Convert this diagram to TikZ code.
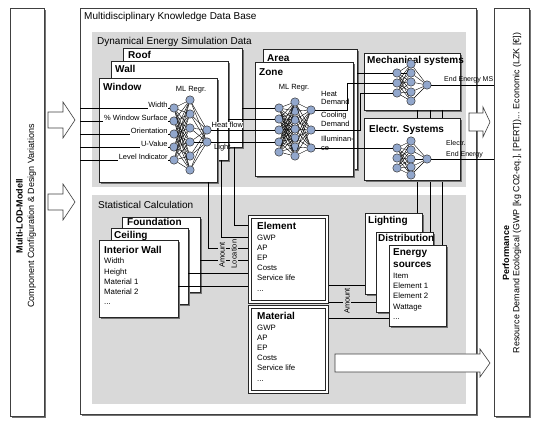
\documentclass[tikz,border=0pt]{standalone}
\usepackage{fontspec}
\setmainfont{Liberation Sans}
\usetikzlibrary{positioning,calc,shadows}
\colorlet{panelColor}{black!15}
\definecolor{neuronColor}{RGB}{146,167,204}
\colorlet{edgeColor}{black!85}
\newcommand{\hollowArrow}[6]{% start x, tip x, centre y, half shaft, half head, head length
  \draw[arrowshape] (#1,#3-#4) -- (#2-#6,#3-#4) -- (#2-#6,#3-#5) -- (#2,#3)
    -- (#2-#6,#3+#5) -- (#2-#6,#3+#4) -- (#1,#3+#4) -- cycle;}
\tikzset{
  shade box/.style={drop shadow={shadow xshift=1.6pt,shadow yshift=-1.6pt,fill=black!55,opacity=1}},
  frame/.style={draw=black!75,fill=white,line width=0.6pt,inner sep=0pt,outer sep=0pt,anchor=north west,shade box},
  box/.style={draw=edgeColor,fill=white,line width=0.6pt,inner sep=0pt,outer sep=0pt,anchor=north west,shade box},
  dbox/.style={box,double=white,double distance=2.4pt,outer sep=2pt},
  panel/.style={fill=panelColor},
  bigtitle/.style={font=\fontsize{10}{12}\selectfont,inner sep=0pt,anchor=west},
  boxtitle/.style={font=\fontsize{10}{12}\selectfont\bfseries,inner sep=0pt,anchor=north west,align=left},
  boxitems/.style={font=\fontsize{7.8}{10.2}\selectfont,inner sep=0pt,anchor=north west,align=left},
  neuron/.style={circle,draw=black!80,fill=neuronColor,minimum size=8.4pt,inner sep=0pt,line width=0.5pt},
  link/.style={line width=0.4pt},
  small/.style={font=\fontsize{7.5}{8.6}\selectfont,inner sep=0pt},
  inlabel/.style={small,fill=white,inner sep=0.8pt,anchor=south east},
  tag/.style={small,fill=panelColor,inner sep=1pt,rotate=90},
  arrowshape/.style={draw=black!75,fill=white,line width=0.6pt},
}

\begin{document}
\begin{tikzpicture}[x=1pt,y=-1pt]
\useasboundingbox (0,0) rectangle (536,422);
% outer frames
\node[frame,minimum width=34pt,minimum height=408pt] (lod) at (10,8) {};
\node[frame,minimum width=396pt,minimum height=406pt] (kdb) at (80,8) {};
\node[frame,minimum width=35pt,minimum height=408pt] (perf) at (494,8) {};
\node[rotate=90,align=center,font=\fontsize{9}{11.5}\selectfont] (lodText) at (26,216) {\textbf{Multi-LOD-Modell}\\Component Configuration \& Design Variations};
\node[rotate=90,font=\fontsize{9}{11}\selectfont\bfseries] (perfTitle) at (506,253) {Performance};
\node[rotate=90,font=\fontsize{8.9}{11}\selectfont] (perfText) at (517,193) {Resource Demand Ecological (GWP [kg CO2-eq.], [PERT])... Economic (LZK [€])};
% panels
\fill[panel] (92,32) rectangle (466,187);
\fill[panel] (92,195) rectangle (466,404);
\node[bigtitle] (kdbTitle) at (84,17) {Multidisciplinary Knowledge Data Base};
\node[bigtitle] (dynTitle) at (97,42) {Dynamical Energy Simulation Data};
\node[bigtitle] (statTitle) at (98,205) {Statistical Calculation};
% simulation boxes
\node[box,minimum width=119pt,minimum height=99pt] (roof) at (123,48) {};
\node[box,minimum width=117pt,minimum height=99pt] (wall) at (111,61) {};
\node[box,minimum width=118pt,minimum height=104pt] (window) at (99,78) {};
\node[boxtitle] (roofTitle) at (128,51) {Roof};
\node[boxtitle] (wallTitle) at (115,65) {Wall};
\node[boxtitle] (windowTitle) at (103,83) {Window};
\node[box,minimum width=94pt,minimum height=120pt] (area) at (263,49) {};
\node[box,minimum width=98pt,minimum height=114pt] (zone) at (255,62) {};
\node[boxtitle] (areaTitle) at (267,54) {Area};
\node[boxtitle] (zoneTitle) at (259,68) {Zone};
\node[box,minimum width=96pt,minimum height=57pt] (mech) at (364,53) {};
% statistical boxes
\node[box,minimum width=57pt,minimum height=81pt] (lighting) at (365,213) {};
\node[box,minimum width=57pt,minimum height=80pt] (distrib) at (376,232) {};
\node[box,minimum width=57pt,minimum height=81pt] (energy) at (389,245) {};
\coordinate (lgtIn) at ($(lighting.north east)+(-5,0)$);
\coordinate (disIn) at ($(distrib.north east)+(-3,0)$);
\coordinate (eneIn) at ($(energy.north east)+(-4,0)$);
\draw[link] (mech.south -| lgtIn) -- (lgtIn);
\draw[link] (mech.south -| disIn) -- (disIn);
\draw[link] (mech.south -| eneIn) -- (eneIn);
\node[box,minimum width=96pt,minimum height=62pt] (electr) at (364,118) {};
\node[boxtitle] (mechTitle) at (367,56) {Mechanical systems};
\node[boxtitle] (electrTitle) at (369,125) {Electr. Systems};
\node[boxtitle] (lightingTitle) at (368,216) {Lighting};
\node[boxtitle] (distribTitle) at (378,234) {Distribution};
\node[boxtitle,font=\fontsize{10}{12}\selectfont\bfseries] (energyTitle) at (393,248) {Energy\\sources};
\node[boxitems] (energyItems) at (393,273) {Item\\Element 1\\Element 2\\Wattage\\...};
\node[box,minimum width=78pt,minimum height=75pt] (foundation) at (122,217) {};
\node[box,minimum width=77pt,minimum height=76pt] (ceiling) at (111,228) {};
\node[box,minimum width=79pt,minimum height=77pt] (intwall) at (99,240) {};
\node[boxtitle] (foundationTitle) at (127,218) {Foundation};
\node[boxtitle] (ceilingTitle) at (114,231) {Ceiling};
\node[boxtitle] (intwallTitle) at (104,246) {Interior Wall};
\node[boxitems] (intwallItems) at (104,258) {Width\\Height\\Material 1\\Material 2\\...};
\node[dbox,minimum width=77pt,minimum height=85pt] (element) at (248,215) {};
\node[dbox,minimum width=77pt,minimum height=85pt] (material) at (248,305) {};
\node[boxtitle] (elementTitle) at (257,222) {Element};
\node[boxitems] (elementItems) at (257,234.5) {GWP\\AP\\EP\\Costs\\Service life\\...};
\node[boxtitle] (materialTitle) at (257,312) {Material};
\node[boxitems] (materialItems) at (257,324.5) {GWP\\AP\\EP\\Costs\\Service life\\...};
% window network
\foreach \i/\y in {1/108,2/121,3/134,4/147,5/160}
  \node[neuron] (wi\i) at (174,\y) {};
\foreach \i/\y in {1/100,2/114,3/128,4/142,5/156,6/170}
  \node[neuron] (wh\i) at (190,\y) {};
\foreach \i/\y in {1/130,2/142}
  \node[neuron] (wo\i) at (207,\y) {};
\foreach \a in {1,...,5}{\foreach \b in {1,...,6}{\draw[link] (wi\a) -- (wh\b);}}
\foreach \b in {1,...,6}{\foreach \c in {1,2}{\draw[link] (wh\b) -- (wo\c);}}
\foreach \i in {1,...,5}
  \draw[link] (kdb.west |- wi\i) -- (wi\i);
\node[inlabel] (lblWidth) at ($(wi1.west)+(-1,1)$) {Width};
\node[inlabel] (lblSurface) at ($(wi2.west)+(-1,1)$) {\% Window Surface};
\node[inlabel] (lblOrient) at ($(wi3.west)+(-1,1)$) {Orientation};
\node[inlabel] (lblUvalue) at ($(wi4.west)+(-1,1)$) {U-Value};
\node[inlabel] (lblLevel) at ($(wi5.west)+(-1,1)$) {Level Indicator};
\node[small] (winML) at (191,90) {ML Regr.};
% zone network
\foreach \i/\y in {1/108,2/119,3/130,4/142,5/152}
  \node[neuron] (zi\i) at (279,\y) {};
\foreach \i/\y in {1/102,2/111,3/120,4/129,5/138,6/147,7/156}
  \node[neuron] (zh\i) at (295,\y) {};
\foreach \i/\y in {1/110,2/130,3/148}
  \node[neuron] (zo\i) at (311,\y) {};
\foreach \a in {1,...,5}{\foreach \b in {1,...,7}{\draw[link] (zi\a) -- (zh\b);}}
\foreach \b in {1,...,7}{\foreach \c in {1,2,3}{\draw[link] (zh\b) -- (zo\c);}}
\node[small] (zoneML) at (294,88) {ML Regr.};
\draw[link] (roof.east |- zi1) -- (zi1);
\draw[link] (wall.east |- zi2) -- (zi2);
\draw[link] (wo1) -- (zi3);
\draw[link] (wo2) -- (zi4);
\node[small,fill=white,inner sep=0.5pt,anchor=south west] (heatFlow) at (211,128.5) {Heat flow};
\node[small,anchor=north west] (light) at (214,144) {Light};
\node[small,anchor=north west,align=left] (heatDem) at (321,91) {Heat\\Demand};
\node[small,anchor=north west,align=left] (coolDem) at (321,112) {Cooling\\Demand};
\node[small,anchor=north west,align=left] (illum) at (321,136) {Illuminan-\\ce};
% mechanical and electrical networks
\foreach \i/\y in {1/73,2/83,3/93}
  \node[neuron] (mi\i) at (397,\y) {};
\foreach \i/\y in {1/64,2/73,3/82,4/92,5/101}
  \node[neuron] (mh\i) at (411,\y) {};
\node[neuron] (mo) at (427,85) {};
\foreach \i/\y in {1/148,2/158,3/168}
  \node[neuron] (ei\i) at (397,\y) {};
\foreach \i/\y in {1/141,2/150,3/159,4/167,5/175}
  \node[neuron] (eh\i) at (411,\y) {};
\node[neuron] (eo) at (427,159) {};
\foreach \a in {1,2,3}{\foreach \b in {1,...,5}{\draw[link] (mi\a) -- (mh\b); \draw[link] (ei\a) -- (eh\b);}}
\foreach \b in {1,...,5}{\draw[link] (mh\b) -- (mo); \draw[link] (eh\b) -- (eo);}
\coordinate (heatBend) at (347,0);
\coordinate (coolBend) at (360,0);
\draw[link] (zo1) -| (heatBend |- mi2) -- (mi2);
\draw[link] (zo2) -| (coolBend |- mi3) -- (mi3);
\draw[link] (zo3) -- (ei1);
\draw[link] (area.east |- mi1) -- (mi1);
\draw[link] (mo) -- (perf.west |- mo);
\draw[link] (eo) -- (perf.west |- eo);
\node[small,font=\fontsize{7}{8.4}\selectfont,anchor=south west] (endMS) at (444,83) {End Energy MS};
\node[small,font=\fontsize{7}{11}\selectfont,anchor=south west,align=left] (endEl) at (446,158) {Electr.\\End Energy};
% links into the statistical part
\draw[link] ($(roof.south east)+(-8,0)$) |- ($(element.north west)+(0,10)$);
\draw[link] ($(wall.south east)+(-7,0)$) |- ($(element.north west)+(0,22)$);
\draw[link] ($(window.south east)+(-9,0)$) |- ($(element.north west)+(0,33)$);
\coordinate (fndOut) at ($(foundation.south east)+(0,-32)$);
\coordinate (ceiOut) at ($(ceiling.south east)+(0,-31)$);
\coordinate (iwOut) at ($(intwall.south east)+(0,-31)$);
\draw[link] (fndOut) -- (element.west |- fndOut);
\draw[link] (ceiOut) -- (element.west |- ceiOut);
\draw[link] (iwOut) -- (element.west |- iwOut);
\node[tag] (tagAmount) at (222,255) {Amount};
\node[tag] (tagLocation) at (234,254) {Location};
\coordinate (lgtOut) at ($(lighting.south west)+(0,-9)$);
\coordinate (disOut) at ($(distrib.south west)+(0,-10)$);
\coordinate (eneOut) at ($(energy.south west)+(0,-8)$);
\draw[link] (element.east |- lgtOut) -- (lgtOut);
\draw[link] (element.east |- disOut) -- (disOut);
\draw[link] (material.east |- eneOut) -- (eneOut);
\node[tag] (tagAmount2) at (347,301) {Amount};
% block arrows
\hollowArrow{48}{75}{120}{8}{18}{12}
\hollowArrow{48}{75}{202}{8}{18}{12}
\hollowArrow{469}{490}{122}{9}{15}{7}
\hollowArrow{335}{490}{363}{9}{14}{10}
\end{tikzpicture}
\end{document}
